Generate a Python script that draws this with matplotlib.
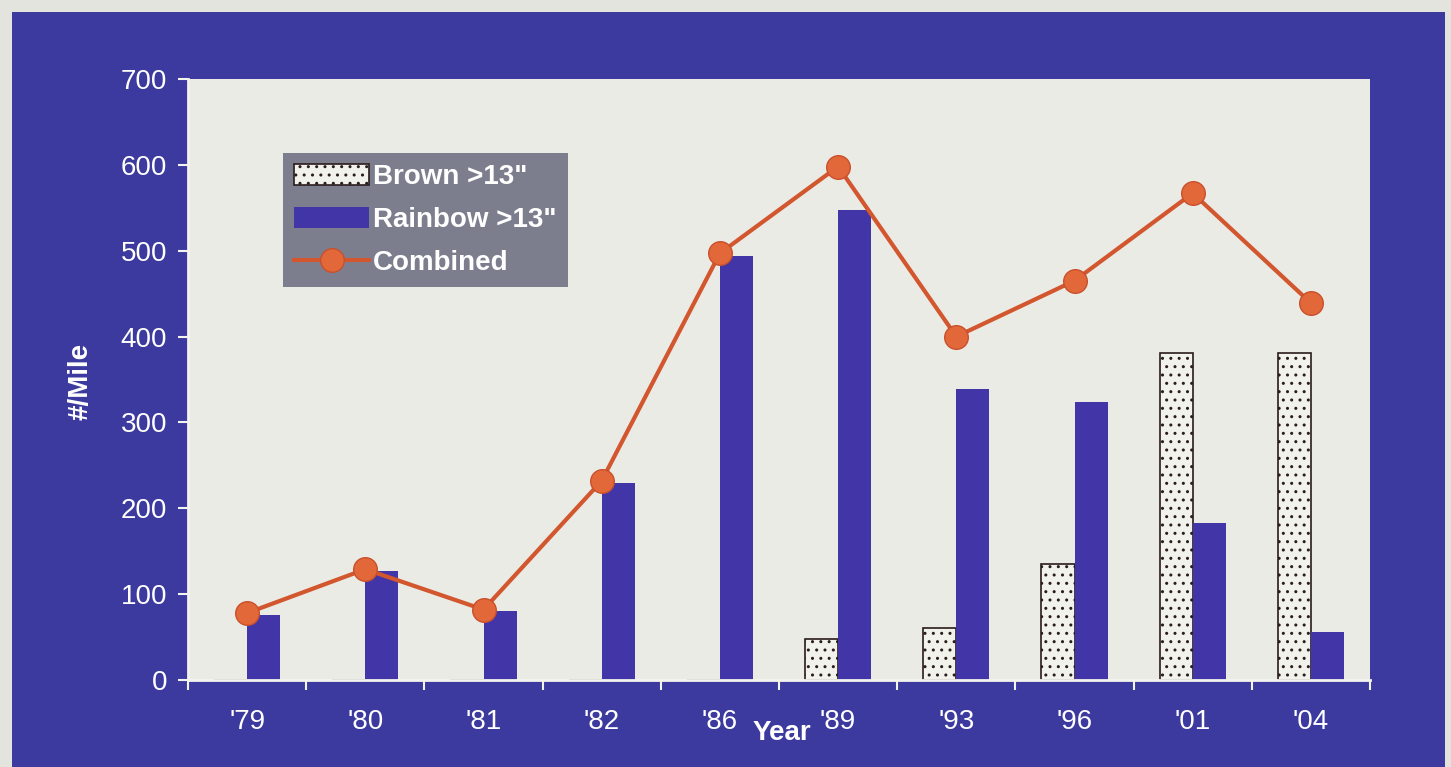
import numpy as np
import matplotlib.pyplot as plt
from matplotlib.patches import Rectangle

years = ["'79", "'80", "'81", "'82", "'86", "'89", "'93", "'96", "'01", "'04"]
brown = [0, 0, 0, 0, 0, 48, 60, 135, 381, 381]
rainbow = [76, 127, 80, 229, 494, 548, 339, 324, 183, 56]
combined = [78, 129, 82, 232, 497, 598, 400, 465, 567, 439]

plt.rcParams['font.family'] = ['Liberation Sans', 'DejaVu Sans']

panel = '#3c3a9e'
fig = plt.figure(figsize=(14.51, 7.67), dpi=100)
fig.patch.set_facecolor('#e4e4de')
# blue panel behind the axes
fig.patches.append(Rectangle((12 / 1451, 0), 1 - 18 / 1451, 1 - 12 / 767,
                             transform=fig.transFigure, facecolor=panel,
                             edgecolor='none', zorder=-10))

ax = fig.add_axes([188 / 1451, 87 / 767, 1182 / 1451, 601 / 767])
ax.set_facecolor('#ebebe5')

x = np.arange(len(years))
w = 0.28
b1 = ax.bar(x - w / 2, brown, w, color='#f2f2ec', edgecolor='#2a1c1c', hatch='..',
            linewidth=1.2, label='Brown >13"', zorder=2)
b2 = ax.bar(x + w / 2, rainbow, w, color='#4235a8', edgecolor='#e8e8f0',
            linewidth=0, label='Rainbow >13"', zorder=2)
ln, = ax.plot(x, combined, color='#d2562e', lw=3, marker='o', markersize=17,
              markerfacecolor='#e2683a', markeredgecolor='#c9502c',
              label='Combined', zorder=3)

ax.set_xlim(-0.5, len(years) - 0.5)
ax.set_ylim(0, 700)
ax.set_yticks(range(0, 701, 100))
ax.set_xticks(np.arange(-0.5, len(years)), [])
ax.set_xticks(x, years, minor=True)
ax.tick_params(axis='x', which='major', direction='out', length=7, width=1.5,
               color='#f4f4ee')
ax.tick_params(axis='x', which='minor', length=0, pad=21, labelsize=20,
               labelcolor='white')
ax.tick_params(axis='y', direction='out', length=7, width=1.5, color='#f4f4ee',
               labelsize=20, labelcolor='white', pad=8)

for s in ['top', 'right']:
    ax.spines[s].set_visible(False)
for s in ['left', 'bottom']:
    ax.spines[s].set_color('#f4f4ee')
    ax.spines[s].set_linewidth(2)

ax.set_xlabel('Year', color='white', fontsize=20, fontweight='bold')
ax.xaxis.set_label_coords(0.502, -0.066)
ax.set_ylabel('#/Mile', color='white', fontsize=20, fontweight='bold')
ax.yaxis.set_label_coords(-0.080, 0.497)

leg = ax.legend([b1, b2, ln], ['Brown >13"', 'Rainbow >13"', 'Combined'],
                loc='upper left', bbox_to_anchor=(0.0804, 0.877), fontsize=20,
                facecolor='#7c7e8e', edgecolor='none', framealpha=1,
                fancybox=False, labelcolor='white', handlelength=2.7,
                handleheight=0.8, handletextpad=0.15, borderpad=0.4,
                labelspacing=0.6, borderaxespad=0)
for t in leg.get_texts():
    t.set_fontweight('bold')

fig.savefig('out.png', dpi=100, facecolor=fig.get_facecolor())
